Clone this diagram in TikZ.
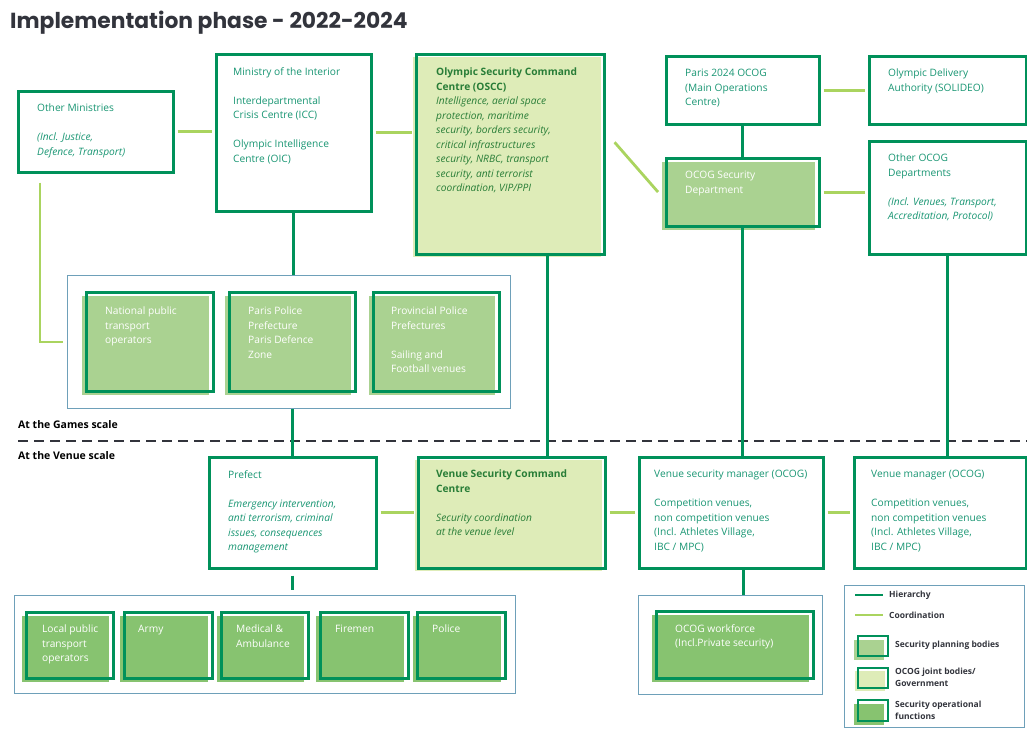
\documentclass[tikz,border=0pt]{standalone}
\usepackage{fontspec}
\setmainfont{Open Sans}
\newfontfamily\titlefont{Poppins}
\usetikzlibrary{positioning,shadows}

\definecolor{hiergreen}{RGB}{0,145,90}
\definecolor{coordgreen}{RGB}{170,212,95}
\definecolor{txtgreen}{RGB}{25,150,115}
\definecolor{darkgreen}{RGB}{40,125,55}
\definecolor{jointfill}{RGB}{222,236,184}
\definecolor{planfill}{RGB}{170,210,145}
\definecolor{opfill}{RGB}{135,195,112}
\definecolor{grpframe}{RGB}{110,160,185}
\definecolor{titlegray}{RGB}{50,52,60}

\tikzset{
  orgbox/.style={draw=hiergreen, line width=2.6, anchor=north west, inner sep=0},
  wbox/.style={orgbox, fill=white},
  jbox/.style={orgbox, general shadow={fill=jointfill, shadow xshift=-3pt, shadow yshift=-3pt}},
  pbox/.style={orgbox, general shadow={fill=planfill, shadow xshift=-4pt, shadow yshift=-4pt}},
  obox/.style={orgbox, general shadow={fill=opfill, shadow xshift=-4pt, shadow yshift=-4pt}},
  grp/.style={draw=grpframe, line width=0.8, anchor=north west, inner sep=0},
  txt/.style={anchor=north west, inner sep=0, align=left, text=txtgreen,
    font=\fontsize{10.2}{14.5}\selectfont},
  wtxt/.style={txt, text=white},
  dtxt/.style={txt, text=darkgreen},
  hier/.style={draw=hiergreen, line width=2.8},
  coord/.style={draw=coordgreen, line width=2.8, shorten <=3, shorten >=3},
  scalelbl/.style={anchor=west, inner sep=0, font=\fontsize{10.5}{12}\selectfont\bfseries},
  legtxt/.style={anchor=west, inner sep=0, align=left, text=titlegray,
    font=\fontsize{8.5}{12}\selectfont\bfseries}
}

\begin{document}
\begin{tikzpicture}[x=1pt, y=-1pt]
  \useasboundingbox (0,0) rectangle (1027,729);

  \node[anchor=base west, inner sep=0, text=titlegray,
    font=\fontsize{21.8}{26}\titlefont\bfseries] (title) at (10,28)
    {Implementation phase - 2022-2024};

  % national level
  \node[wbox, minimum width=155, minimum height=81] (othmin) at (17,90) {};
  \node[txt] (othmin-t) at ([shift={(20,14)}]othmin.north west)
    {Other Ministries\\[14.5pt]\itshape (Incl. Justice,\\\itshape Defence, Transport)};

  \node[wbox, minimum width=155, minimum height=157] (mint) at (215,53) {};
  \node[txt] (mint-t) at ([shift={(18,14)}]mint.north west)
    {Ministry of the Interior\\[14.5pt]Interdepartmental\\Crisis Centre (ICC)\\[14.5pt]Olympic Intelligence\\Centre (OIC)};

  \node[jbox, minimum width=188, minimum height=200] (oscc) at (415,53) {};
  \node[dtxt] (oscc-t) at ([shift={(21,15)}]oscc.north west)
    {\bfseries Olympic Security Command\\\bfseries Centre (OSCC)\\\itshape Intelligence, aerial space\\\itshape protection, maritime\\\itshape security, borders security,\\\itshape critical infrastructures\\\itshape security, NRBC, transport\\\itshape security, anti terrorist\\\itshape coordination, VIP/PPI};

  \node[wbox, minimum width=153, minimum height=68] (paris) at (665,55) {};
  \node[txt] (paris-t) at ([shift={(20,14)}]paris.north west)
    {Paris 2024 OCOG\\(Main Operations\\Centre)};

  \node[wbox, minimum width=157, minimum height=68] (oda) at (868,55) {};
  \node[txt] (oda-t) at ([shift={(20,14)}]oda.north west)
    {Olympic Delivery\\Authority (SOLIDEO)};

  \node[pbox, minimum width=153, minimum height=68] (secdep) at (665,157) {};
  \node[wtxt] (secdep-t) at ([shift={(20,14)}]secdep.north west)
    {OCOG Security\\Department};

  \node[wbox, minimum width=157, minimum height=113] (othocog) at (868,140) {};
  \node[txt] (othocog-t) at ([shift={(20,14)}]othocog.north west)
    {Other OCOG\\Departments\\[14.5pt]\itshape (Incl. Venues, Transport,\\\itshape Accreditation, Protocol)};

  \node[grp, minimum width=443, minimum height=133] (grp1) at (67,275) {};
  \node[pbox, minimum width=127, minimum height=99] (natp) at (85,291) {};
  \node[wtxt] (natp-t) at ([shift={(20,16)}]natp.north west)
    {National public\\transport\\operators};
  \node[pbox, minimum width=126, minimum height=99] (ppp) at (228,291) {};
  \node[wtxt] (ppp-t) at ([shift={(20,16)}]ppp.north west)
    {Paris Police\\Prefecture\\Paris Defence\\Zone};
  \node[pbox, minimum width=126, minimum height=99] (prov) at (372,291) {};
  \node[wtxt] (prov-t) at ([shift={(19,16)}]prov.north west)
    {Provincial Police\\Prefectures\\[14.5pt]Sailing and\\Football venues};

  % games / venue split
  \node[scalelbl] (games) at (18,425) {At the Games scale};
  \coordinate (dashL) at (18,441);
  \coordinate (dashR) at (1027,441);
  \draw[titlegray, line width=1.6, dash pattern=on 10 off 6] (dashL) -- (dashR);
  \node[scalelbl] (venue) at (18,456) {At the Venue scale};

  % venue level
  \node[wbox, minimum width=167, minimum height=111] (pref) at (208,456) {};
  \node[txt] (pref-t) at ([shift={(20,14)}]pref.north west)
    {Prefect\\[14.5pt]\itshape Emergency intervention,\\\itshape anti terrorism, criminal\\\itshape issues, consequences\\\itshape management};

  \node[jbox, minimum width=187, minimum height=111] (vscc) at (417,456) {};
  \node[dtxt] (vscc-t) at ([shift={(19,14)}]vscc.north west)
    {\bfseries Venue Security Command\\\bfseries Centre\\[14.5pt]\itshape Security coordination\\\itshape at the venue level};

  \node[wbox, minimum width=184, minimum height=111] (vsm) at (638,456) {};
  \node[txt] (vsm-t) at ([shift={(16,14)}]vsm.north west)
    {Venue security manager (OCOG)\\[14.5pt]Competition venues,\\non competition venues\\(Incl. Athletes Village,\\IBC / MPC)};

  \node[wbox, minimum width=172, minimum height=111] (vm) at (853,456) {};
  \node[txt] (vm-t) at ([shift={(18,14)}]vm.north west)
    {Venue manager (OCOG)\\[14.5pt]Competition venues,\\non competition venues\\(Incl. Athletes Village,\\IBC / MPC)};

  \node[grp, minimum width=501, minimum height=98] (grp2) at (14,595) {};
  \node[obox, minimum width=87, minimum height=66] (local) at (25,611) {};
  \node[wtxt] (local-t) at ([shift={(17,14)}]local.north west)
    {Local public\\transport\\operators};
  \node[obox, minimum width=88, minimum height=66] (army) at (123,611) {};
  \node[wtxt] (army-t) at ([shift={(15,14)}]army.north west) {Army};
  \node[obox, minimum width=87, minimum height=66] (med) at (220,611) {};
  \node[wtxt] (med-t) at ([shift={(16,14)}]med.north west) {Medical \&\\Ambulance};
  \node[obox, minimum width=88, minimum height=66] (fire) at (319,611) {};
  \node[wtxt] (fire-t) at ([shift={(16,14)}]fire.north west) {Firemen};
  \node[obox, minimum width=88, minimum height=66] (police) at (416,611) {};
  \node[wtxt] (police-t) at ([shift={(16,14)}]police.north west) {Police};

  \node[grp, minimum width=184, minimum height=99] (grp3) at (638,595) {};
  \node[obox, minimum width=157, minimum height=67] (ocogw) at (655,610) {};
  \node[wtxt] (ocogw-t) at ([shift={(20,14)}]ocogw.north west)
    {OCOG workforce\\(Incl.Private security)};

  % coordination links
  \draw[coord] (othmin.east) -- (othmin.east -| mint.west);
  \draw[coord] (mint.east) -- (mint.east -| oscc.west);
  \draw[coord] ([shift={(7,87)}]oscc.north east) -- ([shift={(-5,2)}]secdep.west);
  \draw[coord] (paris.east) -- (oda.west);
  \draw[coord] (secdep.east) -- (secdep.east -| othocog.west);
  \draw[coord, shorten <=0, shorten >=0] ([shift={(23,9)}]othmin.south west) |- ([xshift=-4]grp1.west);
  \draw[coord] (pref.east) -- (vscc.west);
  \draw[coord] (vscc.east) -- (vsm.west);
  \draw[coord] (vsm.east) -- (vm.west);

  % hierarchy links
  \draw[hier] (mint.south) -- (mint.south |- grp1.north);
  \draw[hier] (paris.south) -- (secdep.north);
  \draw[hier] (grp1.south -| pref.north) -- (pref.north);
  \draw[hier] ([xshift=37]oscc.south) -- ([xshift=37]oscc.south |- vscc.north);
  \draw[hier] (secdep.south) -- (secdep.south |- vsm.north);
  \draw[hier] (othocog.south) -- (othocog.south |- vm.north);
  \draw[hier, shorten <=6, shorten >=5] (pref.south) -- (pref.south |- grp2.north);
  \draw[hier] ([xshift=12]vsm.south) -- ([xshift=12]vsm.south |- grp3.north);

  % legend
  \node[grp, minimum width=180, minimum height=142] (legend) at (844,585) {};
  \coordinate (hierA) at (855,595);
  \coordinate (hierB) at (883,595);
  \draw[hier] (hierA) -- (hierB);
  \node[legtxt] (hier-l) at (889,595) {Hierarchy};
  \coordinate (coordA) at (855,615);
  \coordinate (coordB) at (883,615);
  \draw[draw=coordgreen, line width=2.8] (coordA) -- (coordB);
  \node[legtxt] (coord-l) at (889,615) {Coordination};
  \node[pbox, line width=2.2, minimum width=30, minimum height=20] (leg-p) at (857,635) {};
  \node[legtxt] (leg-p-l) at (895,645) {Security planning bodies};
  \node[jbox, line width=2.2, minimum width=30, minimum height=20] (leg-j) at (857,667) {};
  \node[legtxt] (leg-j-l) at (895,677) {OCOG joint bodies/\\Government};
  \node[obox, line width=2.2, minimum width=30, minimum height=21] (leg-o) at (857,699) {};
  \node[legtxt] (leg-o-l) at (895,710) {Security operational\\functions};
\end{tikzpicture}
\end{document}
